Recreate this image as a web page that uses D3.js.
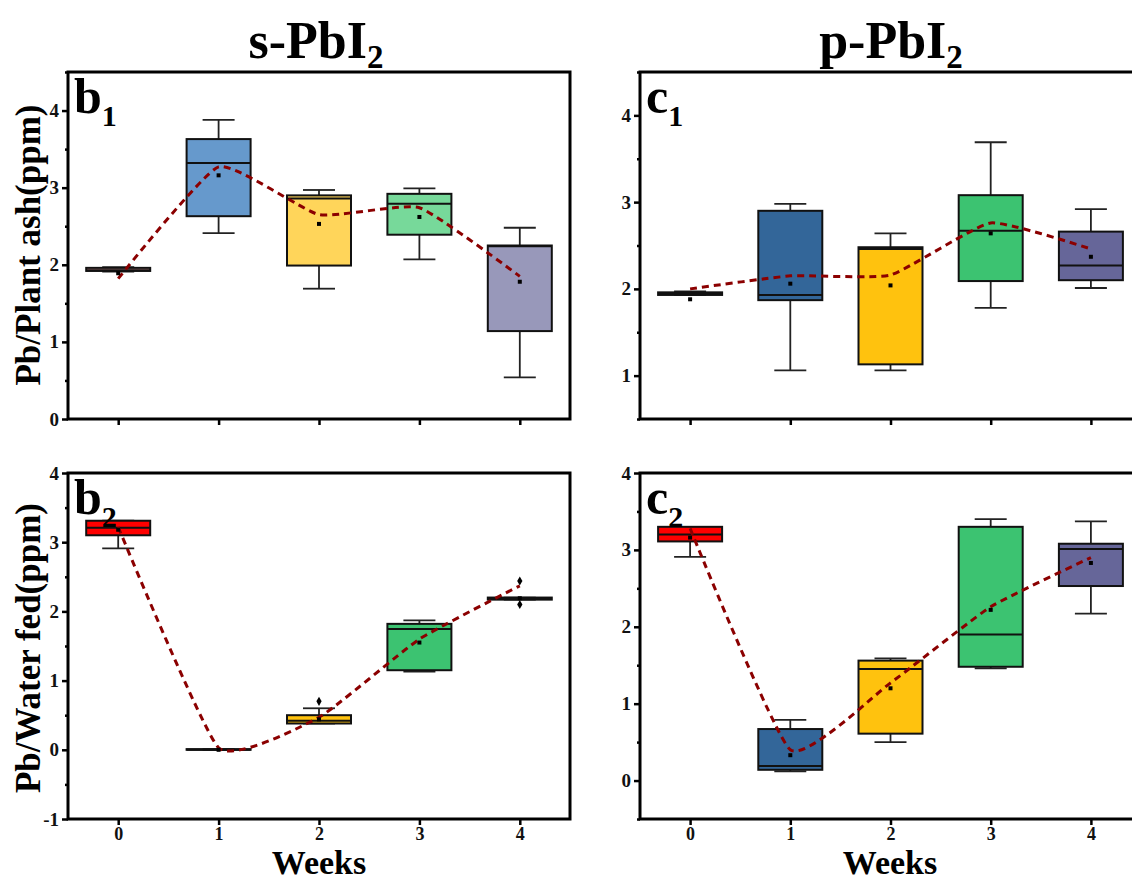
<!DOCTYPE html>
<html>
<head>
<meta charset="utf-8">
<script src="https://cdn.jsdelivr.net/npm/d3@7"></script>
<style>
  body { margin: 0; background: #fff; }
  svg { display: block; }
</style>
</head>
<body>
<svg id="chart" width="1132" height="880"></svg>
<script>
// weeks on the x axis
var weeks = [0, 1, 2, 3, 4];

// box values per week: [whisker low, q1, median, q3, whisker high]
var b1Box = [[1.91, 1.92, 1.93, 1.96, 1.97], [2.41, 2.63, 3.32, 3.63, 3.88], [1.69, 1.99, 2.86, 2.90, 2.97], [2.07, 2.39, 2.79, 2.92, 2.99], [0.54, 1.14, 2.24, 2.25, 2.48]];
var b1Mean = [1.89, 3.16, 2.53, 2.62, 1.78];
var b1Trend = [1.82, 3.27, 2.65, 2.74, 1.85];

var c1Box = [[1.93, 1.93, 1.94, 1.96, 1.97], [1.06, 1.87, 1.93, 2.90, 2.98], [1.06, 1.13, 2.46, 2.48, 2.64], [1.78, 2.09, 2.67, 3.08, 3.69], [2.01, 2.10, 2.27, 2.66, 2.92]];
var c1Mean = [1.88, 2.06, 2.04, 2.64, 2.37];
var c1Trend = [2.0, 2.15, 2.16, 2.76, 2.46];

var b2Box = [[2.91, 3.10, 3.21, 3.31, 3.31], [0.0, 0.0, 0.0, 0.01, 0.01], [0.38, 0.38, 0.42, 0.50, 0.60], [1.13, 1.15, 1.745, 1.82, 1.87], [2.17, 2.17, 2.19, 2.20, 2.20]];
var b2Mean = [3.18, 0.0, 0.44, 1.55, 2.19];
var b2Trend = [3.22, 0.03, 0.47, 1.6, 2.37];
var b2Outliers = [[2, 0.70], [4, 2.44], [4, 2.10]];

var c2Box = [[2.91, 3.11, 3.20, 3.30, 3.30], [0.12, 0.14, 0.19, 0.67, 0.79], [0.50, 0.61, 1.45, 1.56, 1.59], [1.46, 1.48, 1.90, 3.30, 3.40], [2.17, 2.53, 3.01, 3.08, 3.37]];
var c2Mean = [3.16, 0.33, 1.20, 2.22, 2.83];
var c2Trend = [3.28, 0.40, 1.27, 2.26, 2.90];

// fill colours per week
var b1Colors = ["#e8a0a0", "#6699cc", "#ffd55a", "#77d99a", "#9898ba"];
var b2Colors = ["#ff0000", "#336699", "#ffc20e", "#3cc371", "#666699"];
var cColors = ["#ff0000", "#336699", "#ffc20e", "#3cc371", "#666699"];

var FONT = "'Liberation Serif', 'Times New Roman', serif";
var TREND = "#8b0000";

var svg = d3.select("#chart");

var panels = [
    {x0: 68, x1: 570, y0: 72, y1: 419, dom: [0, 4.5], ticks: [0, 1, 2, 3, 4],
     box: b1Box, mean: b1Mean, trend: b1Trend, colors: b1Colors, out: [], xlab: false, l: "b", s: "1"},
    {x0: 640, x1: 1141, y0: 72, y1: 419, dom: [0.5, 4.5], ticks: [1, 2, 3, 4],
     box: c1Box, mean: c1Mean, trend: c1Trend, colors: cColors, out: [], xlab: false, l: "c", s: "1"},
    {x0: 68, x1: 570, y0: 473, y1: 819, dom: [-1, 4], ticks: [-1, 0, 1, 2, 3, 4],
     box: b2Box, mean: b2Mean, trend: b2Trend, colors: b2Colors, out: b2Outliers, xlab: true, l: "b", s: "2"},
    {x0: 640, x1: 1141, y0: 473, y1: 819, dom: [-0.5, 4], ticks: [0, 1, 2, 3, 4],
     box: c2Box, mean: c2Mean, trend: c2Trend, colors: cColors, out: [], xlab: true, l: "c", s: "2"}
];

function plain(v) { return String(v); }

function drawPanel(p) {
    var x = d3.scaleLinear().domain([-0.5, 4.5]).range([p.x0, p.x1]);
    var y = d3.scaleLinear().domain(p.dom).range([p.y1, p.y0]);
    var g = svg.append("g");
    var bw = 64, cap = 32;

    // minor y ticks at the half units
    var minor = d3.range(Math.ceil(p.dom[0] * 2) / 2, p.dom[1] + 0.01, 0.5)
        .filter(function(v) { return v % 1 !== 0; });

    var yAxis = d3.axisLeft(y).tickValues(p.ticks).tickSize(6).tickPadding(3).tickFormat(plain);
    var ya = g.append("g").attr("transform", "translate(" + p.x0 + ",0)").call(yAxis);
    ya.select(".domain").remove();
    ya.selectAll("line").attr("stroke", "#000").attr("stroke-width", 2.5);
    ya.selectAll("text").attr("font-family", FONT).attr("font-weight", "bold")
        .attr("font-size", 19).attr("fill", "#111");
    g.append("g").attr("transform", "translate(" + p.x0 + ",0)")
        .call(d3.axisLeft(y).tickValues(minor).tickSize(3).tickFormat(""))
        .call(function(s) { s.select(".domain").remove(); })
        .selectAll("line").attr("stroke", "#000").attr("stroke-width", 2.5);

    var xAxis = d3.axisBottom(x).tickValues(weeks).tickSize(6).tickPadding(2)
        .tickFormat(p.xlab ? plain : "");
    var xa = g.append("g").attr("transform", "translate(0," + p.y1 + ")").call(xAxis);
    xa.select(".domain").remove();
    xa.selectAll("line").attr("stroke", "#000").attr("stroke-width", 2.5);
    xa.selectAll("text").attr("font-family", FONT).attr("font-weight", "bold")
        .attr("font-size", 18).attr("fill", "#111");

    // boxes
    var bx = g.append("g").selectAll("g").data(p.box).enter().append("g");
    bx.append("line")
        .attr("x1", function(d, i) { return x(weeks[i]); })
        .attr("x2", function(d, i) { return x(weeks[i]); })
        .attr("y1", function(d) { return y(d[4]); })
        .attr("y2", function(d) { return y(d[0]); })
        .attr("stroke", "#222").attr("stroke-width", 1.8);
    [0, 4].forEach(function(k) {
        bx.append("line")
            .attr("x1", function(d, i) { return x(weeks[i]) - cap / 2; })
            .attr("x2", function(d, i) { return x(weeks[i]) + cap / 2; })
            .attr("y1", function(d) { return y(d[k]); })
            .attr("y2", function(d) { return y(d[k]); })
            .attr("stroke", "#222").attr("stroke-width", 1.8);
    });
    bx.append("rect")
        .attr("x", function(d, i) { return x(weeks[i]) - bw / 2; })
        .attr("width", bw)
        .attr("y", function(d) { return y(d[3]); })
        .attr("height", function(d) { return Math.max(0.5, y(d[1]) - y(d[3])); })
        .attr("fill", function(d, i) { return p.colors[i]; })
        .attr("stroke", "#111").attr("stroke-width", 2);
    bx.append("line")
        .attr("x1", function(d, i) { return x(weeks[i]) - bw / 2; })
        .attr("x2", function(d, i) { return x(weeks[i]) + bw / 2; })
        .attr("y1", function(d) { return y(d[2]); })
        .attr("y2", function(d) { return y(d[2]); })
        .attr("stroke", "#111").attr("stroke-width", 2);

    // dashed trend curve
    var line = d3.line()
        .x(function(d, i) { return x(weeks[i]); })
        .y(function(d) { return y(d); })
        .curve(d3.curveCardinal.tension(0.55));
    g.append("path").datum(p.trend).attr("d", line)
        .attr("fill", "none").attr("stroke", TREND)
        .attr("stroke-width", 3).attr("stroke-dasharray", "7,5");

    // means
    g.append("g").selectAll("rect").data(p.mean).enter().append("rect")
        .attr("x", function(d, i) { return x(weeks[i]) - 2; })
        .attr("y", function(d) { return y(d) - 2; })
        .attr("width", 4).attr("height", 4).attr("fill", "#000");

    // outliers
    g.append("g").selectAll("path").data(p.out).enter().append("path")
        .attr("d", d3.symbol().type(d3.symbolDiamond).size(24))
        .attr("transform", function(d) { return "translate(" + x(d[0]) + "," + y(d[1]) + ")"; })
        .attr("fill", "#000");

    // frame
    g.append("rect").attr("x", p.x0).attr("y", p.y0)
        .attr("width", p.x1 - p.x0).attr("height", p.y1 - p.y0)
        .attr("fill", "none").attr("stroke", "#000").attr("stroke-width", 3);

    // panel letter
    var t = g.append("text").attr("x", p.x0 + 6).attr("y", p.y0 + 41)
        .attr("font-family", FONT).attr("font-weight", "bold").attr("font-size", 50).attr("fill", "#000");
    t.append("tspan").text(p.l);
    t.append("tspan").attr("dy", 13).attr("font-size", 30).text(p.s);
}

panels.forEach(drawPanel);

// column titles
[["s-PbI", 316], ["p-PbI", 891]].forEach(function(c) {
    var t = svg.append("text").attr("x", c[1]).attr("y", 58).attr("text-anchor", "middle")
        .attr("font-family", FONT).attr("font-weight", "bold").attr("font-size", 52).attr("fill", "#000");
    t.append("tspan").text(c[0]);
    t.append("tspan").attr("dy", 10).attr("font-size", 33).text("2");
});

// y axis titles
[["Pb/Plant ash(ppm)", 245], ["Pb/Water fed(ppm)", 648]].forEach(function(c) {
    svg.append("text").attr("transform", "translate(40," + c[1] + ") rotate(-90)")
        .attr("text-anchor", "middle")
        .attr("font-family", FONT).attr("font-weight", "bold").attr("font-size", 35).attr("fill", "#000")
        .text(c[0]);
});

// x axis titles
[319, 890].forEach(function(cx) {
    svg.append("text").attr("x", cx).attr("y", 874).attr("text-anchor", "middle")
        .attr("font-family", FONT).attr("font-weight", "bold").attr("font-size", 34).attr("fill", "#000")
        .text("Weeks");
});
</script>
</body>
</html>
